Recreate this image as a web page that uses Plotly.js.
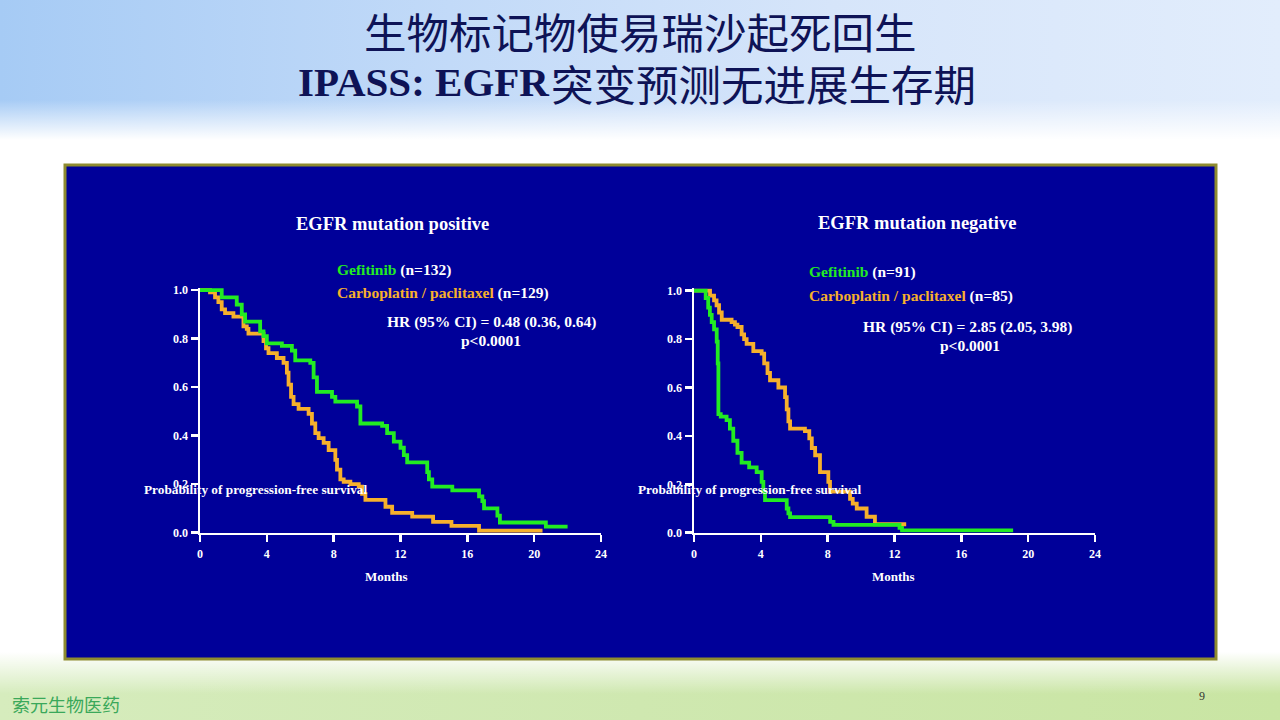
<!DOCTYPE html>
<html>
<head>
<meta charset="utf-8">
<script src="https://cdn.plot.ly/plotly-3.0.1.min.js"></script>
<style>
html,body{margin:0;padding:0;}
body{width:1280px;height:720px;overflow:hidden;
background:
 linear-gradient(to bottom, rgba(255,255,255,0) 0px, rgba(255,255,255,0) 100px, #ffffff 140px, #ffffff 652px, rgba(255,255,255,0) 694px),
 linear-gradient(to right, #a6cbf5 0%, #c2daf8 35%, #d6e5fa 65%, #e2edfc 100%) 0 0/100% 360px no-repeat,
 linear-gradient(to right, #d6ecbd 0%, #cfe8b0 50%, #c9e5a3 100%) 0 360px/100% 360px no-repeat;}
#chart{width:1280px;height:720px;}
</style>
</head>
<body>
<div id="chart"></div>
<script>
// ---------- data ----------
const xTicks = [0, 4, 8, 12, 16, 20, 24];
const yTicks = [0, 0.2, 0.4, 0.6, 0.8, 1.0];

// EGFR mutation positive
const posGefT = [0,1.3,2.2,2.5,2.7,3.6,3.8,4.0,4.9,5.5,5.7,6.6,6.8,7.0,7.9,8.1,9.4,9.6,10.9,11.2,11.6,12.0,12.2,12.4,13.6,13.7,13.9,15.1,16.7,16.9,17.0,17.8,17.95,20.7,22.0];
const posGefS = [1.0,0.97,0.94,0.90,0.87,0.83,0.81,0.78,0.77,0.75,0.71,0.70,0.64,0.58,0.56,0.54,0.52,0.45,0.44,0.41,0.375,0.35,0.32,0.29,0.25,0.22,0.19,0.174,0.15,0.13,0.10,0.07,0.042,0.025,0.025];
const posCarT = [0,0.6,0.9,1.1,1.3,1.5,2.0,2.6,2.8,2.9,3.8,3.95,4.1,4.6,5.0,5.2,5.3,5.45,5.6,5.9,6.5,6.7,6.9,7.1,7.4,7.7,8.1,8.2,8.4,8.6,9.0,9.5,9.7,9.9,11.1,11.5,12.7,13.95,15.05,16.7,20.5];
const posCarS = [1.0,0.99,0.97,0.95,0.92,0.905,0.89,0.85,0.84,0.82,0.79,0.76,0.74,0.72,0.70,0.66,0.61,0.56,0.53,0.51,0.49,0.45,0.41,0.39,0.37,0.34,0.30,0.26,0.22,0.21,0.20,0.19,0.16,0.135,0.107,0.082,0.066,0.045,0.028,0.008,0.008];

// EGFR mutation negative
const negGefT = [0,0.7,0.85,0.95,1.06,1.2,1.36,1.42,1.46,1.6,1.95,2.15,2.35,2.6,2.85,3.3,3.75,4.05,4.15,4.25,5.55,5.65,5.75,8.15,8.35,12.3,12.45,19.1];
const negGefS = [1.0,0.97,0.93,0.90,0.87,0.84,0.79,0.70,0.49,0.48,0.465,0.43,0.38,0.33,0.29,0.27,0.25,0.21,0.17,0.135,0.10,0.08,0.064,0.045,0.032,0.02,0.01,0.01];
const negCarT = [0,0.96,1.2,1.35,1.5,1.66,2.25,2.45,2.6,2.85,3.0,3.15,3.55,4.05,4.2,4.4,4.55,5.05,5.45,5.55,5.65,5.75,6.64,6.9,7.05,7.25,7.54,8.04,8.14,9.34,9.5,9.74,10.33,10.83,12.7];
const negCarS = [1.0,0.98,0.96,0.94,0.91,0.88,0.87,0.86,0.85,0.82,0.80,0.78,0.75,0.74,0.70,0.66,0.63,0.60,0.56,0.51,0.46,0.43,0.42,0.39,0.35,0.32,0.25,0.21,0.17,0.14,0.12,0.10,0.066,0.035,0.035];

const titleLine1 = "生物标记物使易瑞沙起死回生";
const titleLine2a = "IPASS: EGFR";
const titleLine2b = "突变预测无进展生存期";
const panelTitles = ["EGFR mutation positive", "EGFR mutation negative"];
const gefLabels = ["(n=132)", "(n=91)"];
const carLabels = ["(n=129)", "(n=85)"];
const hrLabels = ["HR (95% CI) = 0.48 (0.36, 0.64)", "HR (95% CI) = 2.85 (2.05, 3.98)"];
const pLabel = "p<0.0001";
const yTitle = "Probability of progression-free survival";
const xTitle = "Months";

// ---------- style ----------
const W = 1280, H = 720;
const GREEN = "#22ec22", ORANGE = "#f6b02c";
const SERIF = "'Liberation Serif', 'Times New Roman', serif";
const px = v => v / W;
const py = v => 1 - v / H;

function trace(x, y, color, xa, ya) {
  return {x: x, y: y, type: 'scatter', mode: 'lines', line: {shape: 'hv', color: color, width: 3.8},
          xaxis: xa, yaxis: ya, hoverinfo: 'skip', showlegend: false};
}
const data = [
  trace(posCarT, posCarS, ORANGE, 'x', 'y'),
  trace(posGefT, posGefS, GREEN, 'x', 'y'),
  trace(negCarT, negCarS, ORANGE, 'x2', 'y2'),
  trace(negGefT, negGefS, GREEN, 'x2', 'y2')
];

const tickFont = {family: SERIF, size: 12, color: '#ffffff', weight: 'bold'};
function xAxis(d0, d1, anchor) {
  return {domain: [d0, d1], range: [0, 24], tickvals: xTicks, ticks: 'outside', ticklen: 7, tickwidth: 2.5,
          tickcolor: '#fff', showline: true, linecolor: '#fff', linewidth: 2.5, showgrid: false, zeroline: false,
          tickfont: tickFont, anchor: anchor, fixedrange: true, ticklabelstandoff: 1};
}
function yAxis(d0, d1, anchor) {
  return {domain: [d0, d1], range: [0, 1.01], tickvals: yTicks, tickformat: '.1f', ticks: 'outside', ticklen: 7,
          tickwidth: 2.5, tickcolor: '#fff', showline: true, linecolor: '#fff', linewidth: 2.5, showgrid: false,
          zeroline: false, tickfont: tickFont, anchor: anchor, fixedrange: true};
}

function ann(text, x, y, size, color, xanchor, family) {
  return {text: text, x: px(x), y: py(y), xref: 'paper', yref: 'paper', showarrow: false,
          xanchor: xanchor || 'center', yanchor: 'middle',
          font: {family: family || SERIF, size: size, color: color}};
}

const NAVY = "#0e1356";
const CJK = "'Noto Sans CJK SC', sans-serif";
const LEG = 15.5;
const annotations = [
  ann(titleLine1, 640, 31, 42.5, NAVY, 'center', CJK),
  ann('<b>' + titleLine2a + '</b>', 551, 82, 41, NAVY, 'right', SERIF),
  ann(titleLine2b, 549, 82, 42.5, NAVY, 'left', CJK),

  ann('<b>' + panelTitles[0] + '</b>', 392, 224, 18.5, '#ffffff'),
  ann('<b>' + panelTitles[1] + '</b>', 917, 223, 18.5, '#ffffff'),

  ann('<b><span style="color:' + GREEN + '">Gefitinib</span> ' + gefLabels[0] + '</b>', 335, 270, LEG, '#ffffff', 'left'),
  ann('<b><span style="color:' + ORANGE + '">Carboplatin / paclitaxel</span> ' + carLabels[0] + '</b>', 335, 293, LEG, '#ffffff', 'left'),
  ann('<b>' + hrLabels[0] + '</b>', 491.5, 322, LEG, '#ffffff'),
  ann('<b>' + pLabel + '</b>', 491, 340, LEG, '#ffffff'),

  ann('<b><span style="color:' + GREEN + '">Gefitinib</span> ' + gefLabels[1] + '</b>', 807, 272, LEG, '#ffffff', 'left'),
  ann('<b><span style="color:' + ORANGE + '">Carboplatin / paclitaxel</span> ' + carLabels[1] + '</b>', 807, 296, LEG, '#ffffff', 'left'),
  ann('<b>' + hrLabels[1] + '</b>', 967.5, 327, LEG, '#ffffff'),
  ann('<b>' + pLabel + '</b>', 970, 345, LEG, '#ffffff'),

  ann('<b>' + yTitle + '</b>', 142, 489, 13.3, '#ffffff', 'left'),
  ann('<b>' + yTitle + '</b>', 636, 489, 13.3, '#ffffff', 'left'),
  ann('<b>' + xTitle + '</b>', 386, 576, 13, '#ffffff'),
  ann('<b>' + xTitle + '</b>', 893, 576, 13, '#ffffff'),

  ann('索元生物医药', 10, 704, 18, '#3aa85a', 'left', CJK),
  ann('9', 1202, 696, 12, '#333333', 'center', SERIF)
];

const layout = {
  width: W, height: H, margin: {l: 0, r: 0, t: 0, b: 0},
  paper_bgcolor: 'rgba(0,0,0,0)', plot_bgcolor: 'rgba(0,0,0,0)',
  showlegend: false,
  xaxis: xAxis(px(200), px(601), 'y'),
  yaxis: yAxis(py(532.7), py(287.6), 'x'),
  xaxis2: xAxis(px(694), px(1095), 'y2'),
  yaxis2: yAxis(py(532.7), py(288.3), 'x2'),
  shapes: [
    {type: 'rect', xref: 'paper', yref: 'paper', x0: px(65), x1: px(1216), y0: py(659), y1: py(165),
     fillcolor: '#000099', line: {color: '#8e8b2f', width: 3}, layer: 'below'}
  ],
  annotations: annotations
};

Plotly.newPlot('chart', data, layout, {displayModeBar: false, staticPlot: true});
</script>
</body>
</html>
